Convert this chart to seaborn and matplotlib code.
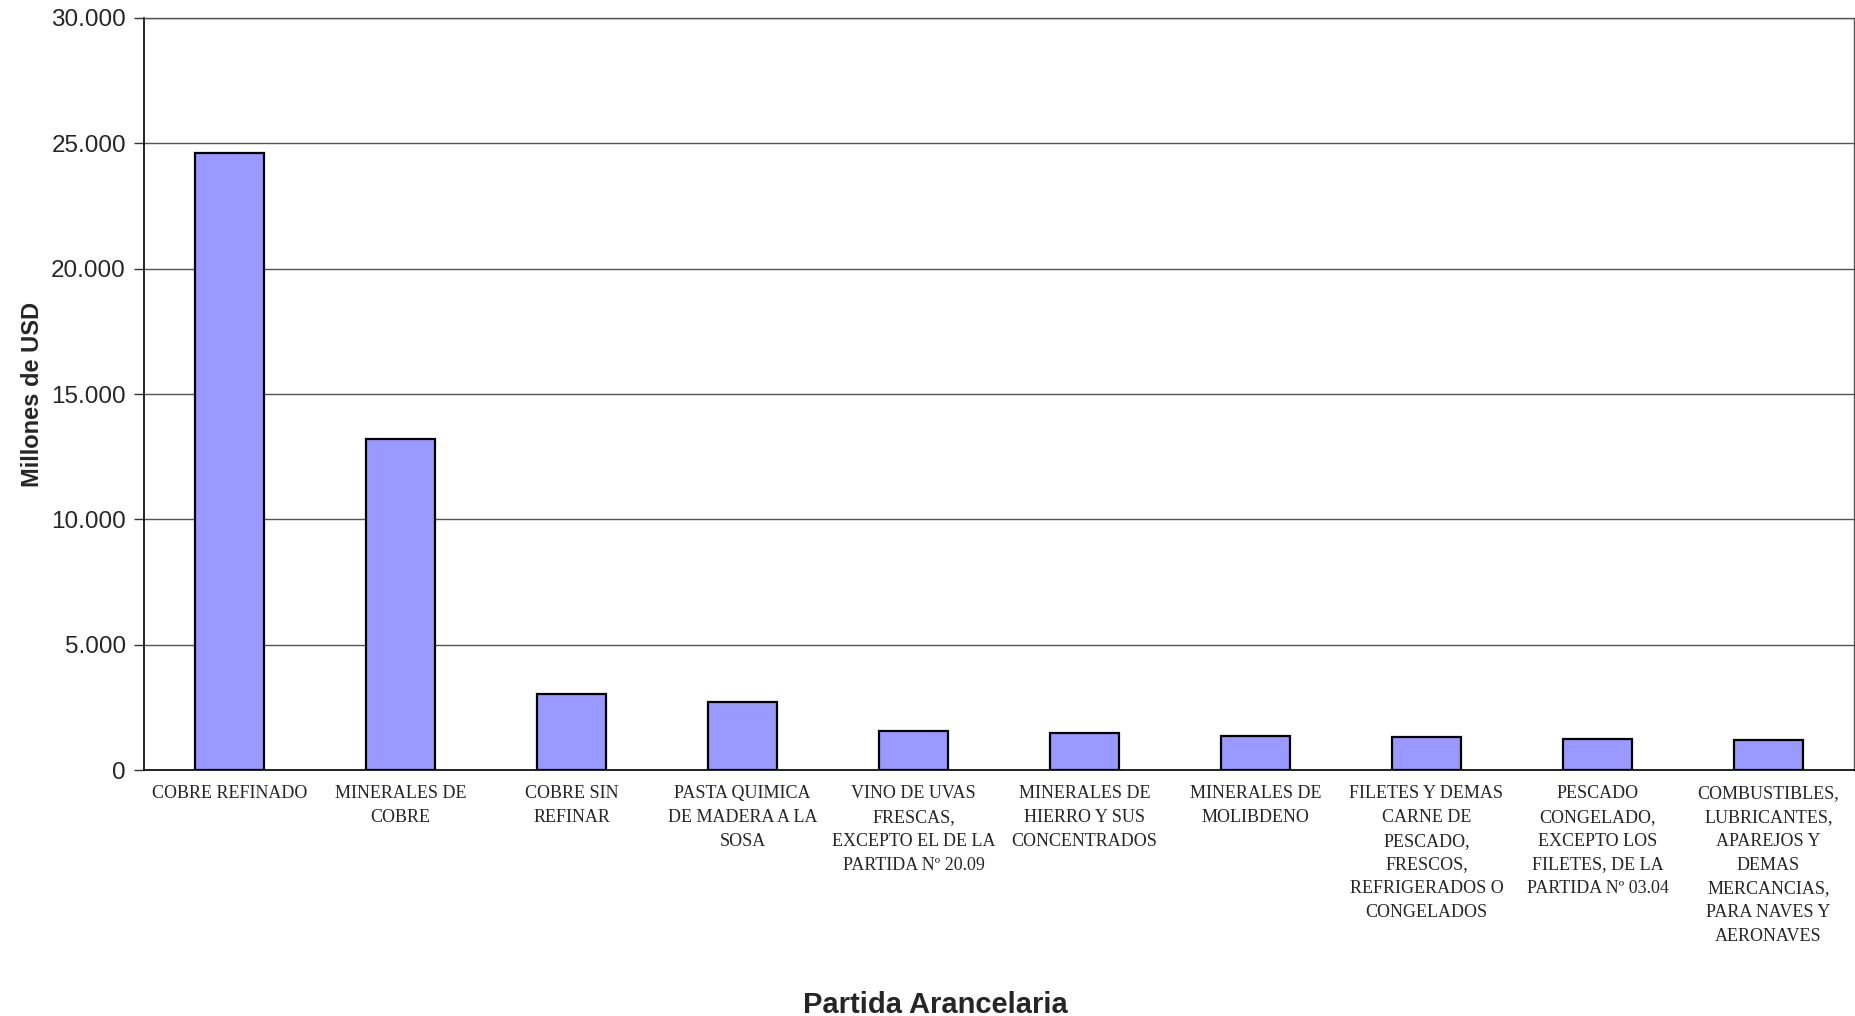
import matplotlib
matplotlib.use("Agg")
import matplotlib.pyplot as plt
import seaborn as sns
import pandas as pd
import numpy as np

# Datos (millones de USD)
partidas = [
    "COBRE REFINADO",
    "MINERALES DE\nCOBRE",
    "COBRE SIN\nREFINAR",
    "PASTA QUIMICA\nDE MADERA A LA\nSOSA",
    "VINO DE UVAS\nFRESCAS,\nEXCEPTO EL DE LA\nPARTIDA Nº 20.09",
    "MINERALES DE\nHIERRO Y SUS\nCONCENTRADOS",
    "MINERALES DE\nMOLIBDENO",
    "FILETES Y DEMAS\nCARNE DE\nPESCADO,\nFRESCOS,\nREFRIGERADOS O\nCONGELADOS",
    "PESCADO\nCONGELADO,\nEXCEPTO LOS\nFILETES, DE LA\nPARTIDA Nº 03.04",
    "COMBUSTIBLES,\nLUBRICANTES,\nAPAREJOS Y\nDEMAS\nMERCANCIAS,\nPARA NAVES Y\nAERONAVES",
]
valores = [24600, 13200, 3050, 2700, 1570, 1480, 1370, 1300, 1220, 1210]
yticks = [0, 5000, 10000, 15000, 20000, 25000, 30000]
ytick_labels = ["0", "5.000", "10.000", "15.000", "20.000", "25.000", "30.000"]

df = pd.DataFrame({"Partida": partidas, "Valor": valores})

sns.set_style("white")
plt.rcParams["font.family"] = ["Liberation Sans", "DejaVu Sans"]

fig = plt.figure(figsize=(18.56, 10.16), dpi=100)
ax = fig.add_axes([0.0776, 0.2421, 0.9213, 0.7402])

sns.barplot(data=df, x="Partida", y="Valor", color="#9999FF", saturation=1,
            width=0.4, edgecolor="black", linewidth=1.6, ax=ax, zorder=3)

ax.set_ylim(0, 30000)
ax.set_xlim(-0.5, len(partidas) - 0.5)
ax.set_yticks(yticks)
ax.set_yticklabels(ytick_labels, fontsize=17.5, family="Liberation Sans")
ax.yaxis.grid(True, color="#555555", linewidth=1.0, zorder=0)

# etiquetas centradas, marcas en los bordes de categoría
ax.set_xticks(np.arange(len(partidas)))
ax.set_xticklabels(partidas, fontsize=13, family="Liberation Serif",
                   linespacing=1.52, va="top")
ax.set_xticks(np.arange(len(partidas) + 1) - 0.5, minor=True)
ax.tick_params(axis="x", which="major", length=0, pad=11)
ax.tick_params(axis="x", which="minor", length=7, width=1, color="#333333", direction="out")
ax.tick_params(axis="y", length=7, width=1, color="#333333", direction="out", pad=6, left=True)

for lado in ["left", "bottom"]:
    ax.spines[lado].set_color("black")
    ax.spines[lado].set_linewidth(1.2)
for lado in ["top", "right"]:
    ax.spines[lado].set_color("#555555")
    ax.spines[lado].set_linewidth(1.0)

ax.set_xlabel("Partida Arancelaria", fontsize=21, fontweight="bold")
ax.xaxis.set_label_coords(0.4626, -0.294)
ax.set_ylabel("Millones de USD", fontsize=17, fontweight="bold", labelpad=5)

fig.savefig("out.png", dpi=100)
plt.close()
